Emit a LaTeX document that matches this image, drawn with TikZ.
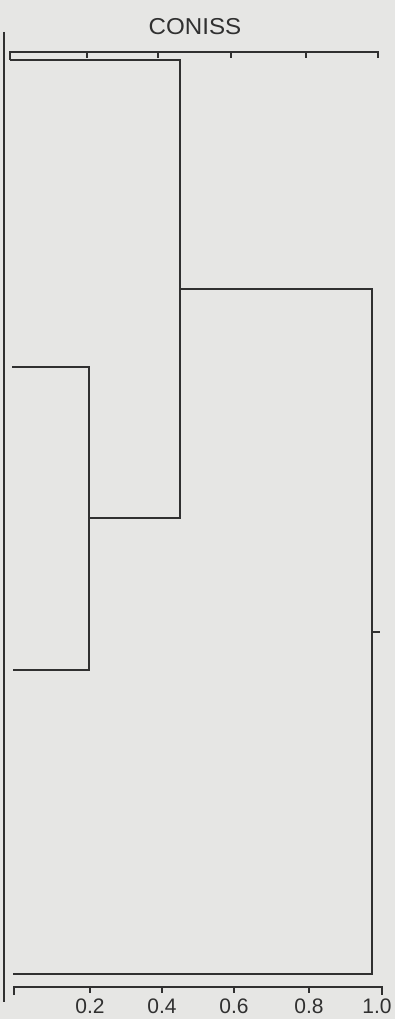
\documentclass[tikz,border=0pt]{standalone}
\usepackage{fontspec}
\setmainfont{Liberation Sans}
\definecolor{paper}{HTML}{E6E6E4}
\definecolor{ink}{HTML}{303030}
\begin{document}
\begin{tikzpicture}[x=1pt,y=-1pt,
  ln/.style={draw=ink, line width=2.2pt},
  lbl/.style={text=ink, inner sep=0pt, font=\fontsize{21}{21}\selectfont}
]
  \fill[paper] (0,0) rectangle (395,1019);
  \useasboundingbox (0,0) rectangle (395,1019);
  \node[lbl, font=\fontsize{23}{23}\selectfont, xscale=1.05] (title) at (195,27) {CONISS};
  % frame line on the left
  \draw[ln] (4,32) -- (4,1002);
  % top scale
  \draw[ln] (10,60) -- (10,52) -- (378,52) -- (378,58);
  \foreach \x in {87,158,231,306} \draw[ln] (\x,52) -- (\x,58);
  % dendrogram
  \draw[ln] (10,60) -- (180,60) -- (180,518) -- (89,518);
  \draw[ln] (12,367) -- (89,367) -- (89,670) -- (13,670);
  \draw[ln] (180,289) -- (372,289) -- (372,974) -- (13,974);
  \draw[ln] (372,632) -- (380,632);
  % bottom scale
  \draw[ln] (14,995) -- (14,987) -- (382,987) -- (382,995);
  \foreach \x/\v in {90/0.2,162/0.4,234/0.6,309/0.8,377/1.0} {
    \node[lbl] (t\x) at (\x,1006) {\v};
  }
  \foreach \x in {90,162,234,309} \draw[ln] (\x,987) -- (\x,993);
\end{tikzpicture}
\end{document}
